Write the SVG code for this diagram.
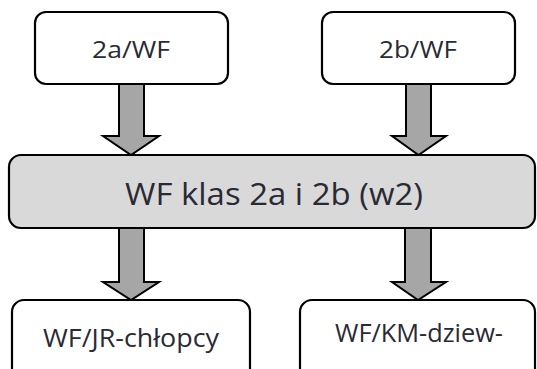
<svg xmlns="http://www.w3.org/2000/svg" width="537" height="369" viewBox="0 0 537 369">
<style>
.box{fill:#ffffff;stroke:#000000;stroke-width:2.2}
.mid{fill:#d9d9d9;stroke:#000000;stroke-width:2.2}
.arr{fill:#a6a6a6;stroke:#000000;stroke-width:2;stroke-linejoin:miter}
text{font-family:"Open Sans","Liberation Sans",sans-serif;fill:#2a2a35;text-anchor:middle}
.t{font-size:24px}
.tb{font-size:26px}
.tm{font-size:31px}
</style>
<rect width="537" height="369" fill="#ffffff"/>
<g id="connectors">
<polygon class="arr" points="119,84 144,84 144,136 159,136 131,155 103,136 119,136"/>
<polygon class="arr" points="406,84 431,84 431,136 446,136 418.5,155 392,136 406,136"/>
<polygon class="arr" points="119,228 144,228 144,282 159,282 131,300 103,282 119,282"/>
<polygon class="arr" points="405,228 431,228 431,282 446,282 418,300 392,282 405,282"/>
</g>
<g id="node-2a">
<rect class="box" x="35" y="12" width="193" height="72" rx="11"/>
<text class="t" x="131" y="58" textLength="78" lengthAdjust="spacingAndGlyphs">2a/WF</text>
</g>
<g id="node-2b">
<rect class="box" x="322" y="12" width="193" height="72" rx="11"/>
<text class="t" x="418" y="58" textLength="78" lengthAdjust="spacingAndGlyphs">2b/WF</text>
</g>
<g id="node-mid">
<rect class="mid" x="9" y="155" width="526" height="73" rx="12"/>
<text class="tm" x="274" y="205" textLength="298" lengthAdjust="spacingAndGlyphs">WF klas 2a i 2b (w2)</text>
</g>
<g id="node-jr">
<rect class="box" x="12" y="300" width="238" height="85" rx="12"/>
<text class="tb" x="131" y="347" textLength="176" lengthAdjust="spacingAndGlyphs">WF/JR-chłopcy</text>
</g>
<g id="node-km">
<rect class="box" x="300" y="300" width="235" height="85" rx="12"/>
<text class="tb" x="419" y="342" textLength="168" lengthAdjust="spacingAndGlyphs">WF/KM-dziew-</text>
</g>
</svg>
